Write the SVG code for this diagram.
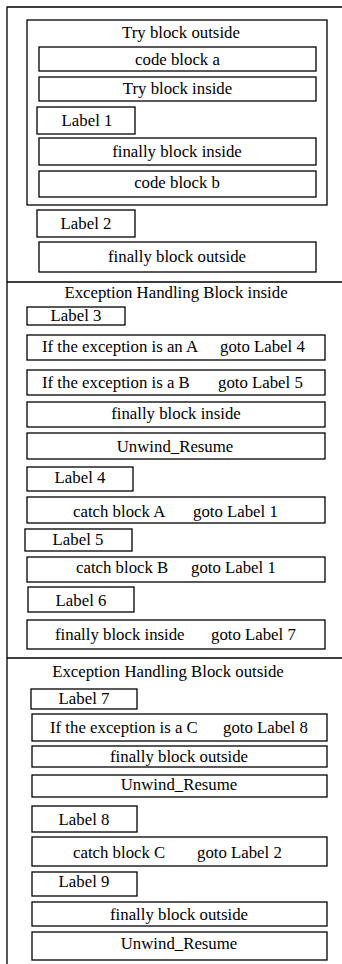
<svg xmlns="http://www.w3.org/2000/svg" width="342" height="964" viewBox="0 0 342 964">
<style>
rect{fill:#fff;stroke:#000;stroke-width:1.3}
.f{fill:none;stroke:#000;stroke-width:1.3}
text{font-family:'Liberation Serif','DejaVu Serif',serif;font-size:16.8px;fill:#000}
.c{text-anchor:middle}
</style>
<rect width="342" height="964" style="stroke:none"/>
<g id="frame">
<path class="f" d="M342 7H7V964M7 282H342M7 658H342"/>
</g>
<g id="try-outside"><rect x="27" y="20" width="300" height="185"/><text class="c" x="181" y="38">Try block outside</text></g>
<g id="code-a"><rect x="39" y="47" width="277" height="24"/><text class="c" x="177.5" y="65">code block a</text></g>
<g id="try-inside"><rect x="39" y="77" width="277" height="24"/><text class="c" x="177.5" y="94">Try block inside</text></g>
<g id="label1"><rect x="37" y="107" width="98" height="27"/><text class="c" x="87" y="126">Label 1</text></g>
<g id="finally-inside-1"><rect x="39" y="138" width="277" height="27"/><text class="c" x="177" y="157">finally block inside</text></g>
<g id="code-b"><rect x="39" y="171" width="277" height="26"/><text class="c" x="177" y="188">code block b</text></g>
<g id="label2"><rect x="37" y="210" width="98" height="27"/><text class="c" x="86" y="229">Label 2</text></g>
<g id="finally-outside-1"><rect x="39" y="242" width="277" height="30"/><text class="c" x="177" y="262">finally block outside</text></g>

<g id="ehb-inside"><text class="c" x="176" y="298">Exception Handling Block inside</text></g>
<g id="label3"><rect x="27" y="307" width="98" height="18"/><text class="c" x="76" y="321">Label 3</text></g>
<g id="if-a"><rect x="27" y="335" width="298" height="25"/><text y="352"><tspan x="42">If the exception is an A</tspan><tspan x="220">goto Label 4</tspan></text></g>
<g id="if-b"><rect x="27" y="370" width="298" height="25"/><text y="388"><tspan x="42">If the exception is a B</tspan><tspan x="218">goto Label 5</tspan></text></g>
<g id="finally-inside-2"><rect x="27" y="402" width="298" height="25"/><text class="c" x="176" y="419">finally block inside</text></g>
<g id="unwind-1"><rect x="27" y="433" width="298" height="26"/><text class="c" x="175" y="452">Unwind_Resume</text></g>
<g id="label4"><rect x="27" y="467" width="106" height="24"/><text class="c" x="80" y="483">Label 4</text></g>
<g id="catch-a"><rect x="27" y="497" width="298" height="26"/><text y="517"><tspan x="73">catch block A</tspan><tspan x="193">goto Label 1</tspan></text></g>
<g id="label5"><rect x="25" y="529" width="107" height="22"/><text class="c" x="78" y="545">Label 5</text></g>
<g id="catch-b"><rect x="27" y="557" width="298" height="25"/><text y="573"><tspan x="76">catch block B</tspan><tspan x="191">goto Label 1</tspan></text></g>
<g id="label6"><rect x="28" y="587" width="106" height="25"/><text class="c" x="81" y="606">Label 6</text></g>
<g id="finally-inside-3"><rect x="27" y="620" width="298" height="29"/><text y="640"><tspan x="55">finally block inside</tspan><tspan x="211">goto Label 7</tspan></text></g>

<g id="ehb-outside"><text class="c" x="168" y="677">Exception Handling Block outside</text></g>
<g id="label7"><rect x="31" y="689" width="106" height="20"/><text class="c" x="84" y="704">Label 7</text></g>
<g id="if-c"><rect x="32" y="714" width="295" height="27"/><text y="733"><tspan x="50">If the exception is a C</tspan><tspan x="223">goto Label 8</tspan></text></g>
<g id="finally-outside-2"><rect x="32" y="746" width="295" height="21"/><text class="c" x="179" y="762">finally block outside</text></g>
<g id="unwind-2"><rect x="32" y="775" width="295" height="22"/><text class="c" x="179" y="790">Unwind_Resume</text></g>
<g id="label8"><rect x="32" y="806" width="105" height="26"/><text class="c" x="84" y="825">Label 8</text></g>
<g id="catch-c"><rect x="32" y="837" width="295" height="29"/><text y="858"><tspan x="73">catch block C</tspan><tspan x="197">goto Label 2</tspan></text></g>
<g id="label9"><rect x="32" y="872" width="105" height="24"/><text class="c" x="84" y="887">Label 9</text></g>
<g id="finally-outside-3"><rect x="32" y="902" width="295" height="24"/><text class="c" x="179" y="920">finally block outside</text></g>
<g id="unwind-3"><rect x="32" y="932" width="295" height="28"/><text class="c" x="179" y="949">Unwind_Resume</text></g>
</svg>
